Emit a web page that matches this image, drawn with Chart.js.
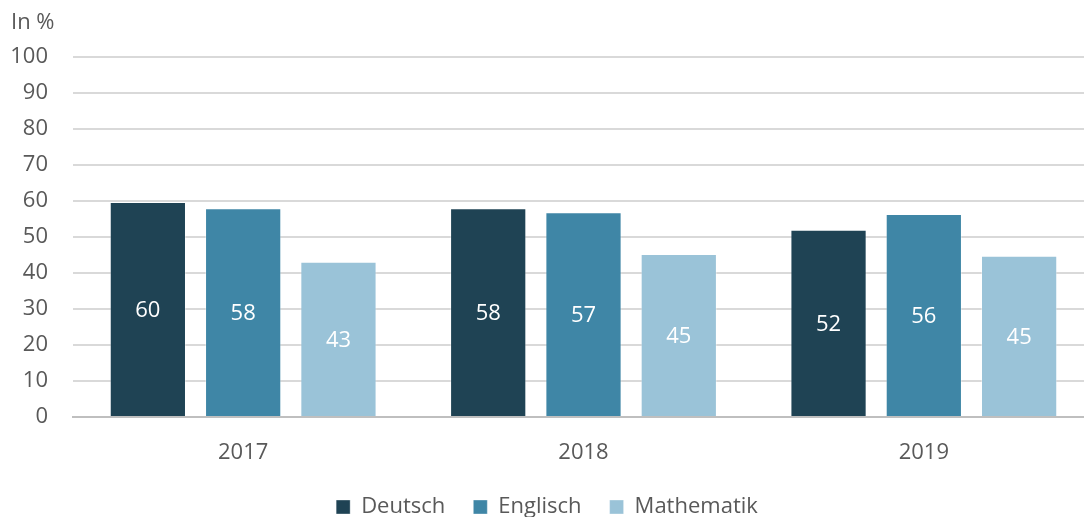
<!DOCTYPE html>
<html>
<head>
<meta charset="utf-8">
<script src="https://cdn.jsdelivr.net/npm/chart.js@4/dist/chart.umd.min.js"></script>
<style>
  html, body { margin: 0; padding: 0; overflow: hidden; background: #fff; }
  #wrap { width: 1084px; height: 517px; overflow: hidden; }
</style>
</head>
<body>
<div id="wrap">
  <canvas id="chartContainer" width="1094" height="528"></canvas>
</div>
<script>
// values
const years = ['2017', '2018', '2019'];
const deutsch = [59.7, 58.0, 52.0];
const englisch = [58.0, 56.9, 56.4];
const mathematik = [43.1, 45.3, 44.8];
const yTicks = [0, 10, 20, 30, 40, 50, 60, 70, 80, 90, 100];

const textColor = '#595959';
const fontFamily = '"Open Sans", "Liberation Sans", sans-serif';

// white value labels in the middle of each bar
const barLabels = {
    id: 'barLabels',
    afterDatasetsDraw(chart) {
        const ctx = chart.ctx;
        ctx.save();
        ctx.fillStyle = '#ffffff';
        ctx.font = '22px ' + fontFamily;
        ctx.textAlign = 'center';
        ctx.textBaseline = 'middle';
        chart.data.datasets.forEach((ds, i) => {
            chart.getDatasetMeta(i).data.forEach((bar, j) => {
                ctx.fillText(Math.round(ds.data[j]), bar.x, (bar.y + bar.base) / 2 + 2);
            });
        });
        ctx.restore();
    }
};

// "In %" unit text top left
const unitLabel = {
    id: 'unitLabel',
    afterDraw(chart) {
        const ctx = chart.ctx;
        ctx.save();
        ctx.fillStyle = textColor;
        ctx.font = '22px ' + fontFamily;
        ctx.textAlign = 'left';
        ctx.textBaseline = 'middle';
        ctx.fillText('In %', 11, 23);
        ctx.restore();
    }
};

const ctx = document.getElementById('chartContainer').getContext('2d');

new Chart(ctx, {
    type: 'bar',
    data: {
        labels: years,
        datasets: [
            { label: 'Deutsch', data: deutsch, backgroundColor: '#1f4354' },
            { label: 'Englisch', data: englisch, backgroundColor: '#3f86a6' },
            { label: 'Mathematik', data: mathematik, backgroundColor: '#9ac3d8' }
        ].map(d => Object.assign(d, {
            borderColor: 'rgba(255,255,255,0.35)',
            borderWidth: 1,
            categoryPercentage: 0.84,
            barPercentage: 0.8
        }))
    },
    options: {
        responsive: false,
        animation: false,
        layout: { padding: { top: 57, left: 0, right: 0, bottom: 0 } },
        scales: {
            x: {
                afterFit: scale => { scale.height = 51; },
                grid: { display: false },
                border: { display: true, color: '#bfbfbf', width: 2 },
                ticks: { color: textColor, font: { family: fontFamily, size: 22 }, padding: 15 }
            },
            y: {
                min: 0,
                max: 100,
                afterBuildTicks: scale => { scale.ticks = yTicks.map(v => ({ value: v })); },
                afterFit: scale => { scale.width = 73; },
                grid: { color: '#d9d9d9', lineWidth: 2, drawTicks: false },
                border: { display: false },
                ticks: { color: textColor, font: { family: fontFamily, size: 22 }, padding: 25 }
            }
        },
        plugins: {
            legend: {
                position: 'bottom',
                labels: {
                    color: textColor,
                    font: { family: fontFamily, size: 22 },
                    boxWidth: 14,
                    boxHeight: 14,
                    padding: 28
                }
            },
            tooltip: { enabled: false }
        }
    },
    plugins: [barLabels, unitLabel]
});
</script>
</body>
</html>
